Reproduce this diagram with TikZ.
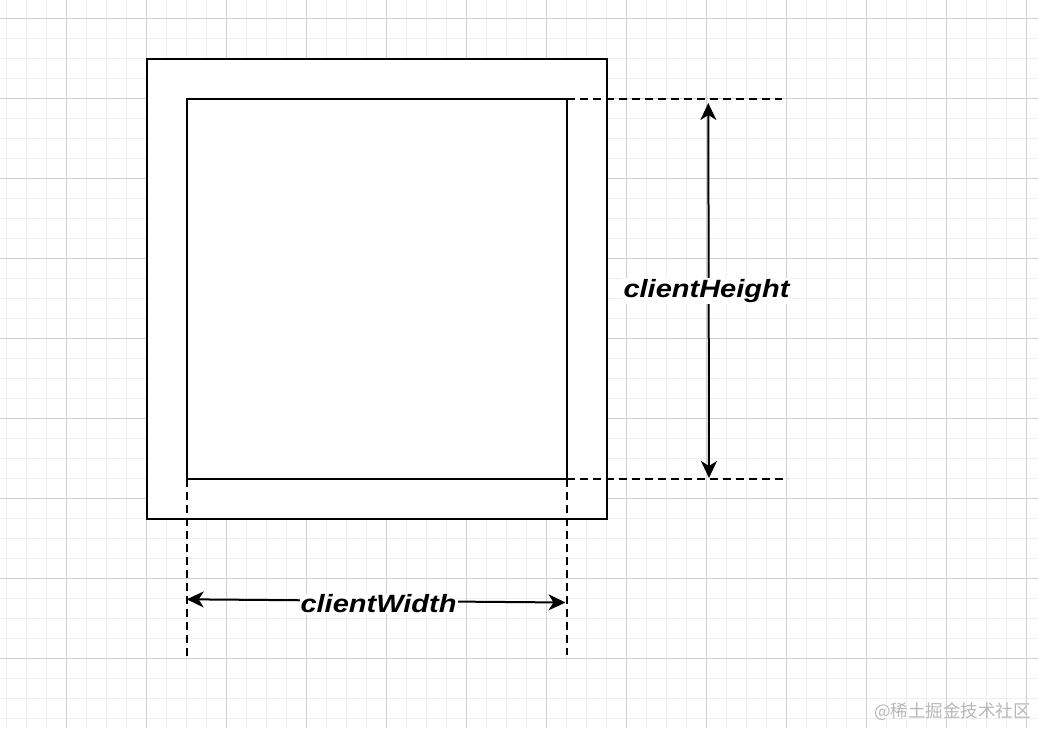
\documentclass[tikz,border=0pt]{standalone}
\usepackage{fontspec}
\setmainfont{Liberation Sans}
\newfontfamily\cjkfont{Noto Sans CJK SC}
\usetikzlibrary{arrows.meta}
\definecolor{gridmajor}{HTML}{D0D0D0}
\definecolor{gridminor}{HTML}{F0F0F0}
\definecolor{markgray}{HTML}{B8B8B8}

\begin{document}
\begin{tikzpicture}[x=1pt,y=-1pt,
  box/.style={draw,line width=2.2pt,fill=white,inner sep=0pt,outer sep=0pt},
  guide/.style={line width=2pt,dash pattern=on 8pt off 5pt},
  dim/.style={line width=2pt,{Stealth[length=17pt,width=16pt,inset=5pt]}-{Stealth[length=17pt,width=16pt,inset=5pt]}},
  dimlabel/.style={fill=white,inner sep=1pt,font=\fontsize{25}{30}\selectfont\bfseries\itshape}]
\useasboundingbox (0,0) rectangle (1038,728);
\fill[white] (0,0) rectangle (1038,728);
% background grid
\foreach \x in {6.7,26.7,...,1038} \draw[gridminor,line width=1pt] (\x,0) -- (\x,728);
\foreach \y in {-1.7,18.3,...,728} \draw[gridminor,line width=1pt] (0,\y) -- (1038,\y);
\foreach \x in {66.7,146.7,...,1038} \draw[gridmajor,line width=0.9pt] (\x,0) -- (\x,728);
\foreach \y in {18.3,98.3,...,728} \draw[gridmajor,line width=0.9pt] (0,\y) -- (1038,\y);

\node[box,minimum size=460pt] (outer) at (377,289) {};
\node[box,minimum size=380pt] (inner) at (377,289) {};

\coordinate (topEnd) at (782,99);
\coordinate (botEnd) at (788,479);
\coordinate (leftEnd) at (187,660);
\coordinate (rightEnd) at (567,655);
\draw[guide] (inner.north east) -- (topEnd);
\draw[guide] (inner.south east) -- (botEnd);
\draw[guide] (inner.south west) -- (leftEnd);
\draw[guide] (inner.south east) -- (rightEnd);

\coordinate (hTop) at (708.3,103);
\coordinate (hBot) at (709,478);
\coordinate (wLeft) at (186.7,599.3);
\coordinate (wRight) at (565.5,602.5);
\draw[dim] (hTop) -- (hBot);
\draw[dim] (wLeft) -- (wRight);
\node[dimlabel] (height) at (706.5,291) {\scalebox{1.16}[1]{clientHeight}};
\node[dimlabel] (width) at (378.5,604) {\scalebox{1.16}[1]{clientWidth}};

\node[anchor=base east,inner sep=0pt,text=markgray,font=\cjkfont\fontsize{17.5}{20}\selectfont] (mark) at (1031,717) {@稀土掘金技术社区};
\end{tikzpicture}
\end{document}
